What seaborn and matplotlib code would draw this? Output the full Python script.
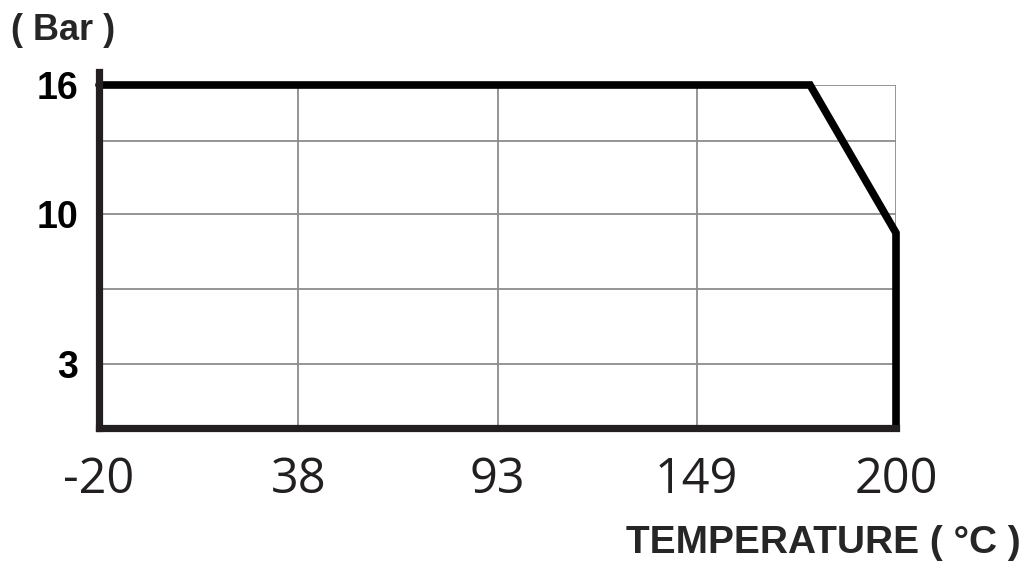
import numpy as np
import seaborn as sns
import matplotlib
matplotlib.use("Agg")
import matplotlib.pyplot as plt

# Druck-Temperatur-Kurve
temp_ticks = [-20, 38, 93, 149, 200]
temp_labels = ["-20", "38", "93", "149", "200"]
press_ticks = [3, 10, 16]
press_grid = [6.5, 13.4]

curve_temp = [-20, 178, 200, 200]
curve_press = [16, 16, 9.1, 0]

sns.set_style("white")
plt.rcParams["font.family"] = ["Liberation Sans", "DejaVu Sans"]

# x-Achse: Ticks in gleichen Abständen (stückweise linear)
pos = np.arange(len(temp_ticks), dtype=float)
t_ext = np.r_[temp_ticks[0] - 1000, temp_ticks, temp_ticks[-1] + 1000]
s0 = (pos[1] - pos[0]) / (temp_ticks[1] - temp_ticks[0])
s1 = (pos[-1] - pos[-2]) / (temp_ticks[-1] - temp_ticks[-2])
p_ext = np.r_[pos[0] - 1000 * s0, pos, pos[-1] + 1000 * s1]


def fwd(t):
    return np.interp(t, t_ext, p_ext)


def inv(p):
    return np.interp(p, p_ext, t_ext)


fig = plt.figure(figsize=(10.26, 5.66), dpi=100)
ax = fig.add_axes([99 / 1026, 1 - 428 / 566, (896 - 99) / 1026, (428 - 85) / 566])
ax.set_xscale("function", functions=(fwd, inv))

sns.lineplot(x=curve_temp, y=curve_press, sort=False, estimator=None,
             color="black", linewidth=5.5, ax=ax, zorder=4)
for l in ax.lines:
    l.set_clip_on(False)
    l.set_solid_joinstyle("miter")

ax.set_xlim(temp_ticks[0], temp_ticks[-1])
ax.set_ylim(0, 16)
ax.set_xticks(temp_ticks)
ax.set_xticklabels(temp_labels)
ax.set_yticks(press_ticks)
ax.set_yticks(press_grid, minor=True)

ax.grid(True, which="both", color="#8c8c8c", linewidth=1.3)
ax.set_axisbelow(True)

for s in ["top", "right"]:
    ax.spines[s].set_visible(False)
for s in ["left", "bottom"]:
    ax.spines[s].set_color("#231f20")
    ax.spines[s].set_linewidth(5.2)
    ax.spines[s].set_zorder(5)
ax.spines["left"].set_bounds(0, 16.6)

ax.tick_params(axis="both", which="both", length=0)
ax.tick_params(axis="x", pad=20)
ax.tick_params(axis="y", pad=15)
for lab in ax.get_xticklabels():
    lab.set_family(["Open Sans", "DejaVu Sans"])
    lab.set_fontsize(35)
    lab.set_color("#231f20")
for lab in ax.get_yticklabels():
    lab.set_fontsize(27)
    lab.set_fontweight("bold")
    lab.set_color("black")

ax.set_xlabel("")
ax.set_ylabel("")

fig.text(11 / 1026, 1 - 30 / 566, "( Bar )", fontsize=26, fontweight="bold",
         ha="left", va="center")
fig.text(1021 / 1026, 1 - 543 / 566, "TEMPERATURE ( °C )", fontsize=28,
         fontweight="bold", ha="right", va="center")

fig.savefig("out.png", dpi=100)
